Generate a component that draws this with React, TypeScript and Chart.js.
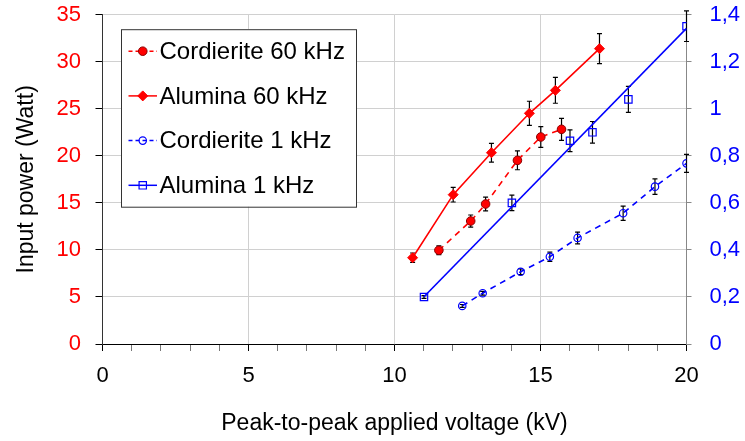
import React, { useEffect, useRef } from 'react';
import { Chart, registerables } from 'chart.js';

Chart.register(...registerables);

const FONT = '"Liberation Sans", Arial, sans-serif';

// X values (kV), Y values (W on left axis / arbitrary on right axis)
const cordierite60X = [11.52, 12.61, 13.12, 14.21, 15.01, 15.72];
const cordierite60Y = [9.96, 13.07, 14.88, 19.52, 22.0, 22.82];
const cordierite60Err = [0.46, 0.64, 0.74, 1.0, 1.1, 1.17];

const alumina60X = [10.62, 12.01, 13.32, 14.62, 15.51, 17.02];
const alumina60Y = [9.17, 15.87, 20.33, 24.52, 26.96, 31.39];
const alumina60Err = [0.5, 0.78, 1.0, 1.28, 1.37, 1.6];

const cordierite1X = [12.32, 13.02, 14.32, 15.32, 16.27, 17.83, 18.92, 20.0];
const cordierite1Y = [0.162, 0.216, 0.307, 0.371, 0.451, 0.556, 0.669, 0.768];
const cordierite1Err = [0.006, 0.008, 0.012, 0.02, 0.025, 0.03, 0.033, 0.038];

const alumina1X = [11.01, 14.02, 16.01, 16.78, 18.01, 20.0];
const alumina1Y = [0.2, 0.6, 0.864, 0.9, 1.04, 1.351];
const alumina1Err = [0.006, 0.033, 0.046, 0.046, 0.055, 0.065];

const alumina1FitX = [11.0, 20.0];
const alumina1FitY = [0.2, 1.342];

const leftTicks = [0, 5, 10, 15, 20, 25, 30, 35];
const rightTicks = [0, 0.2, 0.4, 0.6, 0.8, 1.0, 1.2, 1.4];
const xMajorTicks = [0, 5, 10, 15, 20];

const RED = '#ff0000';
const BLUE = '#0000ff';

const zip = (xs: number[], ys: number[]) => xs.map((x, i) => ({ x, y: ys[i] }));

function drawMarker(ctx: CanvasRenderingContext2D, style: string, x: number, y: number, r: number, fill: string, stroke: string, bw: number) {
  ctx.save();
  ctx.beginPath();
  if (style === 'circle') {
    ctx.arc(x, y, r, 0, Math.PI * 2);
  } else if (style === 'rectRot') {
    ctx.moveTo(x, y - r);
    ctx.lineTo(x + r, y);
    ctx.lineTo(x, y + r);
    ctx.lineTo(x - r, y);
    ctx.closePath();
  } else {
    const s = r * Math.SQRT1_2;
    ctx.rect(x - s, y - s, 2 * s, 2 * s);
  }
  if (fill && fill !== 'transparent') {
    ctx.fillStyle = fill;
    ctx.fill();
  }
  ctx.lineWidth = bw;
  ctx.strokeStyle = stroke;
  ctx.setLineDash([]);
  ctx.stroke();
  ctx.restore();
}

const errorBarPlugin = {
  id: 'errorBars',
  beforeDatasetsDraw(chart: any) {
    const ctx = chart.ctx as CanvasRenderingContext2D;
    ctx.save();
    ctx.strokeStyle = '#000';
    ctx.lineWidth = 1.2;
    ctx.setLineDash([]);
    chart.data.datasets.forEach((ds: any, i: number) => {
      const errs: number[] | undefined = ds.errors;
      if (!errs) return;
      const meta = chart.getDatasetMeta(i);
      const xs = chart.scales[meta.xAxisID];
      const ys = chart.scales[meta.yAxisID];
      ds.data.forEach((p: any, j: number) => {
        const px = xs.getPixelForValue(p.x);
        const yTop = ys.getPixelForValue(p.y + errs[j]);
        const yBot = ys.getPixelForValue(p.y - errs[j]);
        ctx.beginPath();
        ctx.moveTo(px, yTop);
        ctx.lineTo(px, yBot);
        ctx.moveTo(px - 2.5, yTop);
        ctx.lineTo(px + 2.5, yTop);
        ctx.moveTo(px - 2.5, yBot);
        ctx.lineTo(px + 2.5, yBot);
        ctx.stroke();
      });
    });
    ctx.restore();
  },
};

const legendPlugin = {
  id: 'customLegend',
  afterDraw(chart: any) {
    const ctx = chart.ctx as CanvasRenderingContext2D;
    const area = chart.chartArea;
    const left = area.left + 18.5;
    const top = area.top + 14.5;
    const w = 235;
    const h = 177.5;
    ctx.save();
    ctx.fillStyle = '#fff';
    ctx.fillRect(left, top, w, h);
    ctx.strokeStyle = '#333';
    ctx.lineWidth = 1;
    ctx.strokeRect(left + 0.5, top + 0.5, w, h);
    const items = chart.data.datasets.filter((d: any) => d.legend);
    items.forEach((d: any, i: number) => {
      const y = top + 22 + i * 44.7;
      const x0 = left + 7.5;
      const x1 = left + 36;
      ctx.beginPath();
      ctx.strokeStyle = d.borderColor;
      ctx.lineWidth = 1.5;
      ctx.setLineDash(d.legend.dash);
      ctx.moveTo(x0, y);
      ctx.lineTo(x1, y);
      ctx.stroke();
      ctx.setLineDash([]);
      drawMarker(ctx, d.pointStyle, (x0 + x1) / 2, y, d.pointRadius, d.pointBackgroundColor, d.pointBorderColor, d.pointBorderWidth);
      ctx.fillStyle = '#000';
      ctx.font = `24px ${FONT}`;
      ctx.textBaseline = 'middle';
      ctx.textAlign = 'left';
      ctx.fillText(d.label, left + 38.5, y + 1);
    });
    ctx.restore();
  },
};

export default function App() {
  const ref = useRef<HTMLCanvasElement>(null);

  useEffect(() => {
    document.body.style.margin = '0';
    if (!ref.current) return;
    Chart.defaults.font.family = FONT;
    const chart = new Chart(ref.current, {
      type: 'scatter',
      data: {
        datasets: [
          {
            label: 'Cordierite 60 kHz',
            data: zip(cordierite60X, cordierite60Y),
            errors: cordierite60Err,
            legend: { dash: [4, 3] },
            yAxisID: 'y',
            showLine: true,
            borderColor: RED,
            borderWidth: 1.6,
            borderDash: [6, 5],
            pointStyle: 'circle',
            pointRadius: 4.3,
            pointBackgroundColor: RED,
            pointBorderColor: '#8b0000',
            pointBorderWidth: 1,
          } as any,
          {
            label: 'Alumina 60 kHz',
            data: zip(alumina60X, alumina60Y),
            errors: alumina60Err,
            legend: { dash: [] },
            yAxisID: 'y',
            showLine: true,
            borderColor: RED,
            borderWidth: 1.6,
            pointStyle: 'rectRot',
            pointRadius: 5,
            pointBackgroundColor: RED,
            pointBorderColor: RED,
            pointBorderWidth: 1,
          } as any,
          {
            label: 'Cordierite 1 kHz',
            data: zip(cordierite1X, cordierite1Y),
            errors: cordierite1Err,
            legend: { dash: [4, 3] },
            yAxisID: 'y1',
            showLine: true,
            borderColor: BLUE,
            borderWidth: 1.6,
            borderDash: [6, 5],
            pointStyle: 'circle',
            pointRadius: 3.7,
            pointBackgroundColor: 'transparent',
            pointBorderColor: BLUE,
            pointBorderWidth: 1.2,
          } as any,
          {
            label: 'Alumina 1 kHz',
            data: zip(alumina1X, alumina1Y),
            errors: alumina1Err,
            legend: { dash: [] },
            yAxisID: 'y1',
            showLine: false,
            borderColor: BLUE,
            borderWidth: 1.6,
            pointStyle: 'rect',
            pointRadius: 5.2,
            pointBackgroundColor: 'transparent',
            pointBorderColor: BLUE,
            pointBorderWidth: 1.2,
          } as any,
          {
            label: 'Alumina 1 kHz fit',
            data: zip(alumina1FitX, alumina1FitY),
            yAxisID: 'y1',
            showLine: true,
            borderColor: BLUE,
            borderWidth: 1.6,
            pointRadius: 0,
          } as any,
        ],
      },
      options: {
        responsive: false,
        animation: false,
        devicePixelRatio: 1,
        layout: { autoPadding: false, padding: { top: 14.7, left: 0, right: 0, bottom: 0 } },
        plugins: {
          legend: { display: false },
          tooltip: { enabled: false },
        },
        scales: {
          x: {
            type: 'linear',
            min: 0,
            max: 20,
            afterBuildTicks: (s: any) => {
              const t = [];
              for (let v = 0; v <= 20; v++) t.push({ value: v });
              s.ticks = t;
            },
            ticks: {
              autoSkip: false,
              maxRotation: 0,
              color: '#000',
              font: { size: 22 },
              padding: 12,
              callback: (v: any) => (xMajorTicks.includes(v) ? String(v) : ''),
            },
            grid: {
              color: (c: any) => (c.tick && xMajorTicks.includes(c.tick.value) ? '#d0d0d0' : 'rgba(0,0,0,0)'),
              tickColor: (c: any) => (c.tick && xMajorTicks.includes(c.tick.value) ? '#000' : '#777'),
              tickLength: 7,
            },
            border: { color: '#000', width: 1 },
            title: {
              display: true,
              text: 'Peak-to-peak applied voltage (kV)',
              color: '#000',
              font: { size: 23 },
              padding: { top: 0, bottom: 4 },
            },
            afterFit: (s: any) => {
              s.height = 97;
              s.paddingLeft = 0;
              s.paddingRight = 0;
            },
          },
          y: {
            type: 'linear',
            position: 'left',
            min: 0,
            max: 35,
            afterBuildTicks: (s: any) => {
              s.ticks = leftTicks.map((v) => ({ value: v }));
            },
            ticks: {
              color: RED,
              font: { size: 22 },
              padding: 14.5,
            },
            grid: { color: '#d0d0d0', tickColor: '#000', tickLength: 7 },
            border: { color: '#333', width: 1 },
            title: {
              display: true,
              text: 'Input power (Watt)',
              color: '#000',
              font: { size: 23 },
              padding: { top: 13, bottom: 0 },
            },
            afterFit: (s: any) => {
              s.width = 102.5;
              s.paddingTop = 0;
              s.paddingBottom = 0;
            },
          },
          y1: {
            type: 'linear',
            position: 'right',
            min: 0,
            max: 1.4,
            afterBuildTicks: (s: any) => {
              s.ticks = rightTicks.map((v) => ({ value: v }));
            },
            ticks: {
              color: BLUE,
              font: { size: 22 },
              padding: 18,
              callback: (v: any) => String(Math.round(v * 10) / 10).replace('.', ','),
            },
            grid: { drawOnChartArea: false, tickColor: '#888', tickLength: 5 },
            border: { color: '#888', width: 1 },
            afterFit: (s: any) => {
              s.width = 58.5;
              s.paddingTop = 0;
              s.paddingBottom = 0;
            },
          },
        },
      } as any,
      plugins: [errorBarPlugin, legendPlugin],
    });
    return () => chart.destroy();
  }, []);

  return (
    <div style={{ width: 745, height: 441 }}>
      <canvas ref={ref} width={745} height={441} />
    </div>
  );
}
